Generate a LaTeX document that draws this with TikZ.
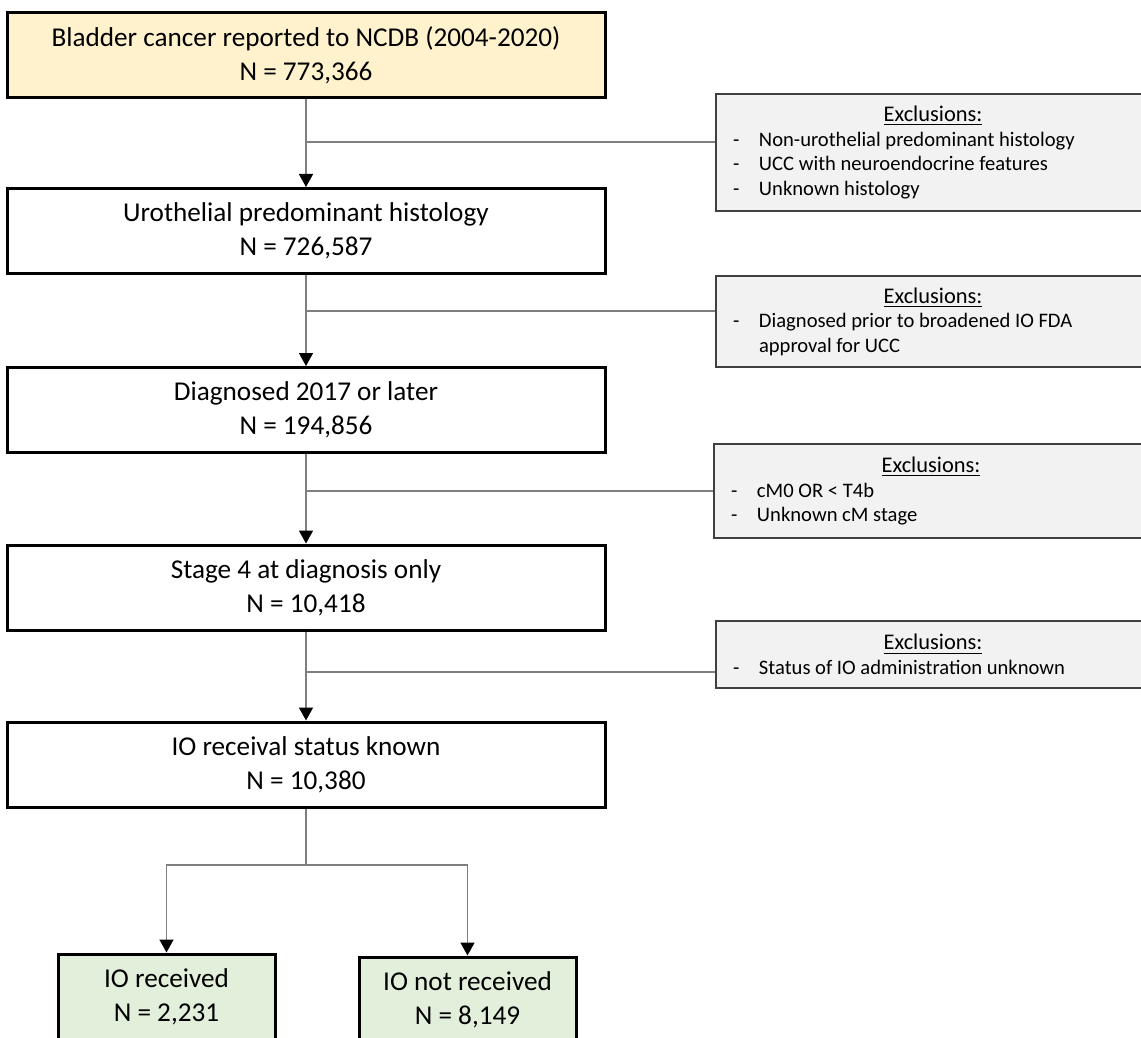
\documentclass[tikz,border=0pt]{standalone}
\usepackage{fontspec}
\setmainfont{Carlito}
\usetikzlibrary{arrows.meta}
\definecolor{boxyellow}{HTML}{FFF2CC}
\definecolor{boxgreen}{HTML}{E2EFDA}
\definecolor{boxgray}{HTML}{F2F2F2}
\definecolor{linegray}{HTML}{7F7F7F}
\definecolor{edgegray}{HTML}{404040}
\tikzstyle{stage}=[draw=black,line width=1.5pt,minimum width=299pt,minimum height=42.5pt,align=center,inner sep=0pt,font=\fontsize{13.6}{17}\selectfont]
\tikzstyle{arm}=[stage,fill=boxgreen,minimum width=108.5pt]
\tikzstyle{excl}=[draw=edgegray,line width=1pt,fill=boxgray,text width=200pt,inner xsep=8.5pt,inner ysep=0pt,align=flush left,font=\fontsize{10.3}{12.25}\selectfont]
\tikzstyle{link}=[draw=linegray,line width=0.75pt]
\tikzstyle{flow}=[link,-{Triangle[length=6.5pt,width=7pt,color=black]}]
\newcommand{\exhead}{{\centering\fontsize{11.2}{12.25}\selectfont\underline{Exclusions:}\par}}
\newcommand{\exitem}[1]{\noindent\makebox[13pt][l]{-}\parbox[t]{185pt}{\raggedright#1}\par}

\begin{document}
\begin{tikzpicture}[x=0.5pt,y=-0.5pt]
\useasboundingbox (0,0) rectangle (1141,1038);
\clip (0,0) rectangle (1141,1038);

\node[stage,fill=boxyellow] (ncdb) at (306,55.5) {Bladder cancer reported to NCDB (2004-2020)\\N = 773,366};
\node[stage] (uro) at (306,231) {Urothelial predominant histology\\N = 726,587};
\node[stage] (diag) at (306,410) {Diagnosed 2017 or later\\N = 194,856};
\node[stage] (stage4) at (306,587.5) {Stage 4 at diagnosis only\\N = 10,418};
\node[stage] (known) at (306,764.5) {IO receival status known\\N = 10,380};
\node[arm] (recv) at (166.5,996.5) {IO received\\N = 2,231};
\node[arm] (norecv) at (467.5,999.5) {IO not received\\N = 8,149};

\node[excl,minimum height=58.5pt] (ex1) at (933,152.5) {\exhead
\exitem{Non-urothelial predominant histology}
\exitem{UCC with neuroendocrine features}
\exitem{Unknown histology}};
\node[excl,minimum height=45.5pt] (ex2) at (933,321.5) {\exhead
\exitem{Diagnosed prior to broadened IO FDA\\approval for UCC}};
\node[excl,minimum height=47pt] (ex3) at (931,491) {\exhead
\exitem{cM0 OR < T4b}
\exitem{Unknown cM stage}};
\node[excl,minimum height=33.5pt] (ex4) at (933,654.5) {\exhead
\exitem{Status of IO administration unknown}};

\coordinate (j1) at (306,142);
\coordinate (j2) at (306,311);
\coordinate (j3) at (306,491);
\coordinate (j4) at (306,672);
\coordinate (split) at (306,865);

\draw[flow] (ncdb) -- (uro);
\draw[flow] (uro) -- (diag);
\draw[flow] (diag) -- (stage4);
\draw[flow] (stage4) -- (known);
\draw[link] (j1) -- (j1 -| ex1.west);
\draw[link] (j2) -- (j2 -| ex2.west);
\draw[link] (j3) -- (j3 -| ex3.west);
\draw[link] (j4) -- (j4 -| ex4.west);

\draw[link] (known) -- (split);
\draw[flow] (split) -| (recv);
\draw[flow] (split) -| (norecv);

\end{tikzpicture}
\end{document}
